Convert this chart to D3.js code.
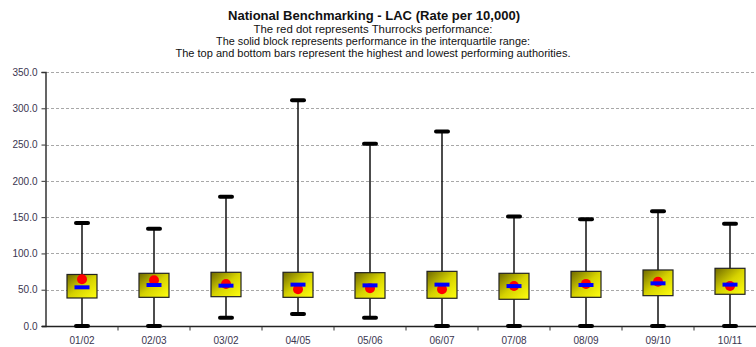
<!DOCTYPE html>
<html>
<head>
<meta charset="utf-8">
<script src="https://cdn.jsdelivr.net/npm/d3@7"></script>
<style>
  html, body { margin: 0; padding: 0; background: #fff; }
  svg { display: block; font-family: "Liberation Sans", Arial, sans-serif; }
</style>
</head>
<body>
<svg id="chart" width="756" height="347"></svg>
<script>
// Financial years
const years = ["01/02", "02/03", "03/02", "04/05", "05/06", "06/07", "07/08", "08/09", "09/10", "10/11"];
// National range (lowest / highest performing authorities)
const lowest  = [0, 0, 11.5, 16.5, 11.5, 0, 0, 0, 0, 0];
const highest = [142, 134, 178, 311, 251, 268, 151, 147, 158, 141];
// Interquartile range and median
const lowerQuartile = [38.6, 39.5, 40.4, 39.5, 38.2, 38.2, 36.8, 39.5, 41.8, 43.7];
const upperQuartile = [71, 72.6, 74, 74, 73.5, 75.3, 72.6, 75.3, 77.2, 79.5];
const median        = [53.3, 56.5, 55.6, 57, 56, 57, 55, 56.5, 58.8, 57];
// Thurrock
const thurrock      = [64.4, 63, 57.9, 50.6, 52, 50.6, 55, 58, 61, 55];
// Value axis ticks
const yTicks = [0, 50, 100, 150, 200, 250, 300, 350];

const rows = years.map((yr, i) => ({
  year: yr, lo: lowest[i], hi: highest[i],
  q1: lowerQuartile[i], q3: upperQuartile[i], med: median[i], dot: thurrock[i]
}));

const svg = d3.select("#chart");
const plotLeft = 46, plotTop = 72, plotBottom = 326, plotRight = 766;

const x = d3.scaleBand().domain(years).range([plotLeft, plotRight]).padding(0);
const y = d3.scaleLinear().domain([0, 350]).range([plotBottom, plotTop]);

// Titles
const titles = svg.append("g").attr("text-anchor", "middle").attr("fill", "#111");
titles.append("text").attr("x", 374).attr("y", 20)
  .attr("font-size", 13).attr("font-weight", "bold")
  .attr("textLength", 292).attr("lengthAdjust", "spacingAndGlyphs")
  .text("National Benchmarking - LAC (Rate per 10,000)");
const subs = [
  { text: "The red dot represents Thurrocks performance:", w: 239 },
  { text: "The solid block represents performance in the interquartile range:", w: 314 },
  { text: "The top and bottom bars represent the highest and lowest performing authorities.", w: 395 }
];
subs.forEach((s, i) => {
  titles.append("text").attr("x", 373).attr("y", 32.5 + i * 12)
    .attr("font-size", 10.5)
    .attr("textLength", s.w).attr("lengthAdjust", "spacingAndGlyphs")
    .text(s.text);
});

// Gridlines
svg.append("g").selectAll("line").data(yTicks.filter(d => d > 0)).join("line")
  .attr("x1", plotLeft).attr("x2", plotRight)
  .attr("y1", d => Math.round(y(d)) + 0.5).attr("y2", d => Math.round(y(d)) + 0.5)
  .attr("stroke", "#a8a8a8").attr("stroke-width", 1).attr("stroke-dasharray", "3,2");

// Y axis
const yAxis = svg.append("g").attr("transform", `translate(${plotLeft - 0.5},0)`)
  .call(d3.axisLeft(y).tickValues(yTicks).tickFormat(d3.format(".1f")).tickSize(4).tickPadding(4));
yAxis.select(".domain").attr("stroke", "#333").attr("stroke-width", 1.5);
yAxis.selectAll(".tick line").attr("stroke", "#333");
yAxis.selectAll("text").attr("font-size", 10).attr("fill", "#3a3550").attr("font-family", "Liberation Sans, Arial, sans-serif");

// X axis with ticks at category boundaries
const xAxisG = svg.append("g").attr("transform", `translate(0,${plotBottom + 0.5})`);
xAxisG.append("line").attr("x1", plotLeft - 4).attr("x2", plotRight).attr("stroke", "#222").attr("stroke-width", 1.5);
xAxisG.selectAll("line.tk").data(d3.range(1, years.length)).join("line").attr("class", "tk")
  .attr("x1", i => plotLeft + i * x.bandwidth()).attr("x2", i => plotLeft + i * x.bandwidth())
  .attr("y1", 0).attr("y2", 4).attr("stroke", "#333");
xAxisG.selectAll("text").data(years).join("text")
  .attr("x", d => x(d) + x.bandwidth() / 2).attr("y", 17)
  .attr("text-anchor", "middle").attr("font-size", 10).attr("fill", "#3a3550")
  .text(d => d);

// Box gradient
const defs = svg.append("defs");
const grad = defs.append("linearGradient").attr("id", "boxFill")
  .attr("x1", "0%").attr("y1", "0%").attr("x2", "100%").attr("y2", "100%");
grad.append("stop").attr("offset", "0%").attr("stop-color", "#6e6800");
grad.append("stop").attr("offset", "50%").attr("stop-color", "#d6d200");
grad.append("stop").attr("offset", "100%").attr("stop-color", "#ffff10");

const cx = d => x(d.year) + x.bandwidth() / 2;
const g = svg.append("g").selectAll("g").data(rows).join("g");

// Whisker
g.append("line")
  .attr("x1", cx).attr("x2", cx)
  .attr("y1", d => y(d.hi)).attr("y2", d => y(d.lo))
  .attr("stroke", "#111").attr("stroke-width", 1.5);
// Caps
["hi", "lo"].forEach(k => {
  g.append("line")
    .attr("x1", d => cx(d) - 6).attr("x2", d => cx(d) + 6)
    .attr("y1", d => y(d[k])).attr("y2", d => y(d[k]))
    .attr("stroke", "#000").attr("stroke-width", 4).attr("stroke-linecap", "round");
});
// Interquartile box
g.append("rect")
  .attr("x", d => cx(d) - 15).attr("width", 30)
  .attr("y", d => y(d.q3)).attr("height", d => y(d.q1) - y(d.q3))
  .attr("fill", "url(#boxFill)").attr("stroke", "#222").attr("stroke-width", 1.2);
// Thurrock dot
g.append("circle")
  .attr("cx", cx).attr("cy", d => y(d.dot)).attr("r", 5)
  .attr("fill", "#ff0000");
// Median bar
g.append("rect")
  .attr("x", d => cx(d) - 7.5).attr("width", 15)
  .attr("y", d => y(d.med) - 2).attr("height", 4)
  .attr("fill", "#0000ff");
</script>
</body>
</html>
